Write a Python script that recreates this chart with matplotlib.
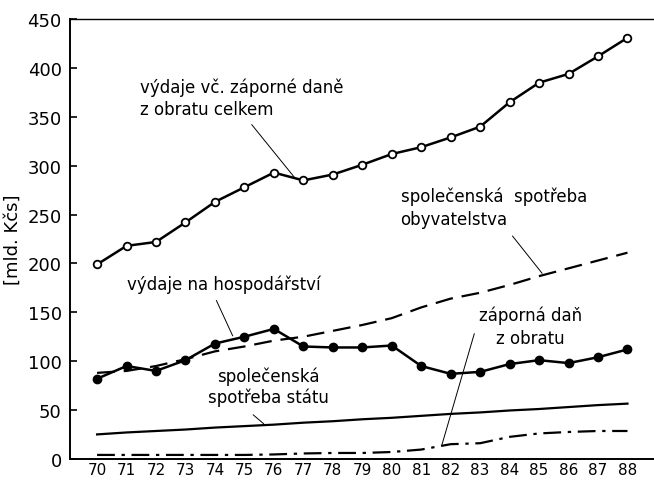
"""Vydaje statniho rozpoctu 1970-1988"""

import matplotlib
matplotlib.use('Agg')
import matplotlib.pyplot as plt

# Years (tick labels) and series values [mld. Kcs]
years = list(range(70, 89))
year_labels = [str(y) for y in years]

total = [199, 218, 222, 242, 263, 278, 293, 285, 291, 301, 312, 319, 329, 340,
         365, 385, 394, 412, 431]
economy = [82, 95, 90, 101, 118, 125, 133, 115, 114, 114, 116, 95, 87, 89,
           97, 101, 98, 104, 112]
households = [88, 90, 95, 102, 110, 115, 121, 125, 131, 137, 144, 155, 164, 170,
              178, 187, 195, 203, 211]
state = [25, 27, 28.5, 30, 32, 33.5, 35, 37, 38.5, 40.5, 42, 44, 46, 47.5,
         49.5, 51, 53, 55, 56.5]
negative_tax = [4, 4, 4, 4, 4, 4, 4.5, 5.5, 6, 6, 7, 9.5, 15, 16, 22.5, 26, 27.5,
                28.5, 28.5]

plt.rcParams['font.family'] = ['DejaVu Sans']

fig = plt.figure(figsize=(6.54, 4.81), dpi=100)
ax = fig.add_axes([0.107, 0.044, 0.893, 0.914])

# Series
ax.plot(years, total, color='k', linewidth=1.8, marker='o', markersize=5.5,
        markerfacecolor='white', markeredgecolor='k', markeredgewidth=1.3)
ax.plot(years, economy, color='k', linewidth=1.8, marker='o', markersize=6,
        markerfacecolor='k')
ax.plot(years, households, color='k', linewidth=1.6, linestyle=(0, (8, 4)))
ax.plot(years, state, color='k', linewidth=1.6)
ax.plot(years, negative_tax, color='k', linewidth=1.6, linestyle=(0, (8, 3, 1.5, 3)))

# Annotations with leader lines
txt = dict(fontsize=12, color='k', ha='left', va='center')
ax.text(71.45, 381, 'výdaje vč. záporné daně', **txt)
ax.text(71.45, 358, 'z obratu celkem', **txt)
ax.plot([75.25, 76.7], [342, 288], color='k', linewidth=0.7)

ax.text(80.3, 269, 'společenská  spotřeba', **txt)
ax.text(80.3, 246, 'obyvatelstva', **txt)
ax.plot([84.1, 85.1], [228, 190], color='k', linewidth=0.7)

ax.text(71.0, 179, 'výdaje na hospodářství', **txt)
ax.plot([74.05, 74.6], [162, 126], color='k', linewidth=0.7)

ax.text(84.7, 147, 'záporná daň', fontsize=12, ha='center', va='center')
ax.text(84.7, 124, 'z obratu', fontsize=12, ha='center', va='center')
ax.plot([82.8, 81.7], [128, 14], color='k', linewidth=0.7)

ax.text(75.8, 85, 'společenská', fontsize=12, ha='center', va='center')
ax.text(75.8, 64, 'spotřeba státu', fontsize=12, ha='center', va='center')
ax.plot([75.3, 75.65], [45, 36], color='k', linewidth=0.7)

# Axes formatting
ax.set_xlim(69.08, 88.9)
ax.set_ylim(0, 450)
ax.set_xticks(years)
ax.set_xticklabels(year_labels)
ax.set_yticks(range(0, 451, 50))
ax.tick_params(axis='y', direction='in', length=5, width=1.2, labelsize=13, pad=6)
ax.tick_params(axis='x', length=0, labelsize=11, pad=2)
ax.spines['right'].set_visible(False)
for s in ['left', 'bottom']:
    ax.spines[s].set_linewidth(1.4)
ax.spines['top'].set_linewidth(1.0)
ax.set_ylabel('[mld. Kčs]', fontsize=13, labelpad=4)

fig.savefig('out.png', dpi=100)
